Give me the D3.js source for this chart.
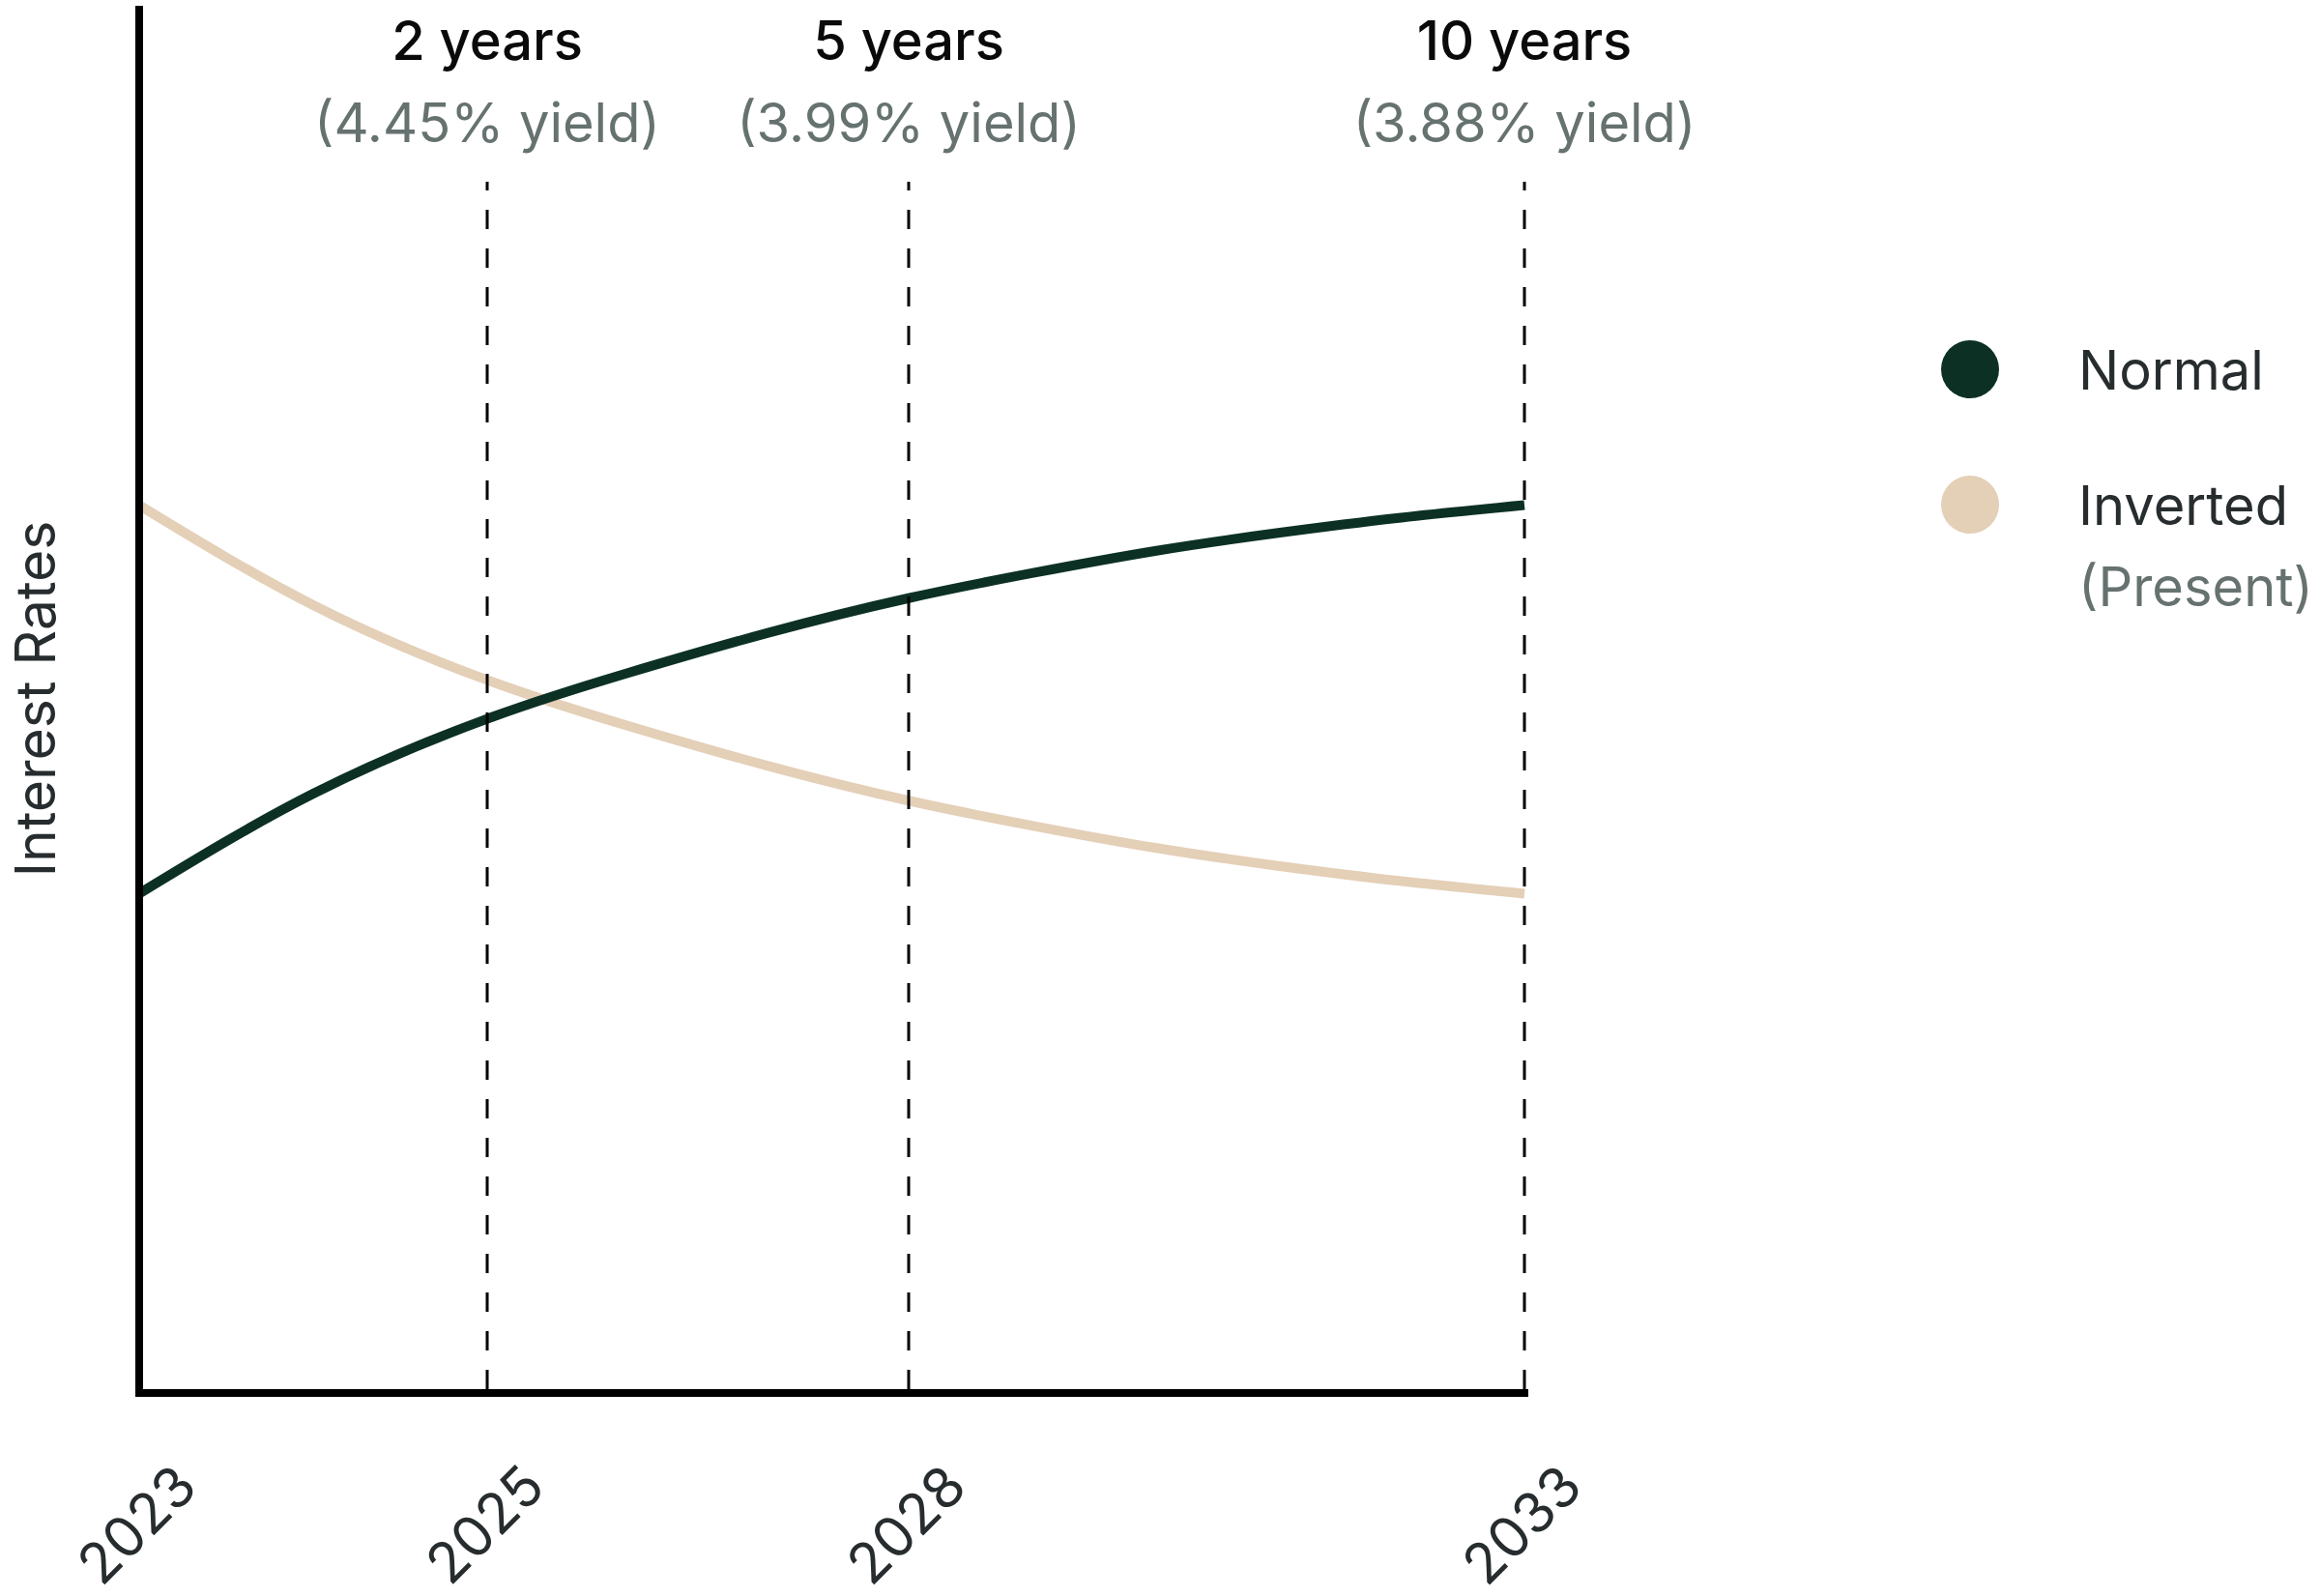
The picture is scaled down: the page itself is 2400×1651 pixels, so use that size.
<!DOCTYPE html>
<html>
<head>
<meta charset="utf-8">
<script src="https://cdn.jsdelivr.net/npm/d3@7"></script>
<style>
  body { margin: 0; background: #fff; }
  svg { display: block; font-family: Inter, "Noto Sans", sans-serif; }
</style>
</head>
<body>
<svg></svg>
<script>
// maturities along the curve (year the bond matures)
let years = [2023, 2024, 2025, 2026, 2027, 2028, 2029, 2030, 2031, 2032, 2033]

// relative interest rate level, no units on the chart
let normalRates = [3.60, 4.32, 4.86, 5.19, 5.48, 5.73, 5.91, 6.07, 6.20, 6.31, 6.40]
let invertedRates = [6.40, 5.68, 5.14, 4.81, 4.52, 4.27, 4.09, 3.93, 3.80, 3.69, 3.60]

// x axis labels
let tickYears = [2023, 2025, 2028, 2033]

// the three marked maturities
let markerYears = [2025, 2028, 2033]
let markerNames = ["2 years", "5 years", "10 years"]
let markerYields = ["4.45%", "3.99%", "3.88%"]

let legendNames = ["Normal", "Inverted"]
let legendNotes = ["", "(Present)"]

let colors = ["#0c3124", "#e4cfb7"]

let width = 2400
let height = 1651

let axisX = 144
let axisY = 1441
let plotTop = 6

let svg = d3.select("svg")
  .attr("width", width)
  .attr("height", height)

// the year spacing on this chart is not even, so the scale is piecewise
let xScale = d3.scaleLinear()
  .domain([2023, 2025, 2028, 2033])
  .range([axisX, 504, 940, 1577])

let yScale = d3.scaleLinear()
  .domain([0, 10])
  .range([axisY, plotTop])

let series = [
  { name: "Normal", values: normalRates },
  { name: "Inverted", values: invertedRates }
]

let drawMarkers = () => {
  svg.selectAll(".marker")
    .data(markerYears)
    .enter()
    .append("line")
    .attr("class", "marker")
    .attr("x1", d => xScale(d))
    .attr("x2", d => xScale(d))
    .attr("y1", axisY - 4)
    .attr("y2", 188)
    .attr("stroke", "#000")
    .attr("stroke-width", 3)
    .attr("stroke-dasharray", "20,20")

  svg.selectAll(".marker-name")
    .data(markerYears)
    .enter()
    .append("text")
    .attr("class", "marker-name")
    .attr("x", d => xScale(d))
    .attr("y", 62)
    .attr("text-anchor", "middle")
    .attr("font-size", 56)
    .attr("font-weight", 500)
    .attr("fill", "#0a0a0a")
    .text((d, i) => markerNames[i])

  svg.selectAll(".marker-yield")
    .data(markerYears)
    .enter()
    .append("text")
    .attr("class", "marker-yield")
    .attr("x", d => xScale(d))
    .attr("y", 147)
    .attr("text-anchor", "middle")
    .attr("font-size", 56)
    .attr("fill", "#667270")
    .text((d, i) => "(" + markerYields[i] + " yield)")
}

let drawLines = () => {
  let line = d3.line()
    .x((d, i) => xScale(years[i]))
    .y(d => yScale(d))
    .curve(d3.curveNatural)

  svg.selectAll(".curve")
    .data(series)
    .enter()
    .append("path")
    .attr("class", "curve")
    .attr("d", d => line(d.values))
    .attr("fill", "none")
    .attr("stroke", (d, i) => colors[i])
    .attr("stroke-width", 10)
    .lower()
}

let drawAxes = () => {
  svg.append("line")
    .attr("x1", axisX)
    .attr("x2", axisX)
    .attr("y1", plotTop)
    .attr("y2", axisY + 4)
    .attr("stroke", "#000")
    .attr("stroke-width", 8)

  svg.append("line")
    .attr("x1", axisX - 4)
    .attr("x2", xScale(2033) + 4)
    .attr("y1", axisY)
    .attr("y2", axisY)
    .attr("stroke", "#000")
    .attr("stroke-width", 8)

  let xAxis = d3.axisBottom(xScale)
    .tickValues(tickYears)
    .tickFormat(d3.format("d"))
    .tickSize(0)

  let g = svg.append("g")
    .attr("transform", "translate(0, " + axisY + ")")
    .call(xAxis)
    .attr("font-family", null)
    .attr("font-size", null)

  g.select(".domain").remove()

  g.selectAll("text")
    .attr("x", null)
    .attr("y", null)
    .attr("dy", null)
    .attr("text-anchor", "end")
    .attr("transform", "translate(62, 100) rotate(-45)")
    .attr("font-size", 58)
    .attr("fill", "#272c2e")

  svg.append("text")
    .attr("transform", "translate(57, 723) rotate(-90)")
    .attr("text-anchor", "middle")
    .attr("font-size", 57)
    .attr("fill", "#272c2e")
    .text("Interest Rates")
}

let drawLegend = () => {
  let legend = svg.selectAll(".legend")
    .data(legendNames)
    .enter()
    .append("g")
    .attr("class", "legend")
    .attr("transform", (d, i) => "translate(2038, " + (382 + i * 140) + ")")

  legend.append("circle")
    .attr("r", 30)
    .attr("fill", (d, i) => colors[i])

  legend.append("text")
    .attr("x", 112)
    .attr("y", 21)
    .attr("font-size", 56)
    .attr("fill", "#272c2e")
    .text(d => d)

  legend.append("text")
    .attr("x", 112)
    .attr("y", 105)
    .attr("font-size", 56)
    .attr("fill", "#667270")
    .text((d, i) => legendNotes[i])
}

drawLines()
drawMarkers()
drawAxes()
drawLegend()
</script>
</body>
</html>
